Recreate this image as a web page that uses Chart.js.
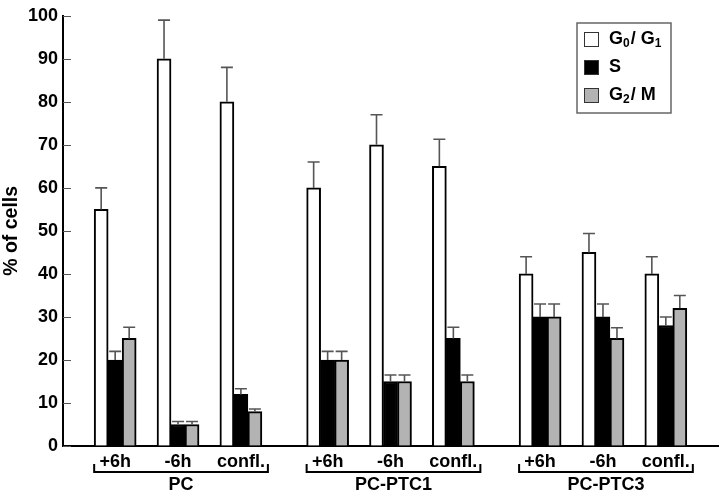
<!DOCTYPE html>
<html>
<head>
<meta charset="utf-8">
<script src="https://cdn.jsdelivr.net/npm/chart.js@4.4.1/dist/chart.umd.min.js"></script>
<style>
    body { margin: 0; background: #fff; }
    canvas { display: block; }
</style>
</head>
<body>
<canvas id="chart" width="720" height="494"></canvas>
<script>
// categories
const groups = ['PC', 'PC-PTC1', 'PC-PTC3'];
const times = ['+6h', '-6h', 'confl.'];

// % of cells per phase, order: PC(+6h,-6h,confl.), PC-PTC1(...), PC-PTC3(...)
const g0g1 = [55, 90, 80, 60, 70, 65, 40, 45, 40];
const g0g1Err = [5, 9, 8, 6, 7, 6.3, 4, 4.4, 4];
const sPhase = [20, 5, 12, 20, 15, 25, 30, 30, 28];
const sErr = [2, 0.7, 1.3, 2, 1.5, 2.6, 3, 3, 2];
const g2m = [25, 5, 8, 20, 15, 15, 30, 25, 32];
const g2mErr = [2.6, 0.7, 0.6, 2, 1.5, 1.5, 3, 2.5, 3];

const yTicks = [0, 10, 20, 30, 40, 50, 60, 70, 80, 90, 100];

// legend labels, split into [text, isSubscript] parts
const seriesLabels = [
    [['G', false], ['0', true], ['/ G', false], ['1', true]],
    [['S', false]],
    [['G', false], ['2', true], ['/ M', false]]
];

const GROUP_STEP = 3.38;
const FONT = 'bold 18px "Liberation Sans", Arial, sans-serif';

const xPos = [];
groups.forEach((g, gi) => times.forEach((t, ti) => xPos.push(gi * GROUP_STEP + ti)));

const toPoints = arr => arr.map((v, i) => ({x: xPos[i], y: v}));

const errors = [g0g1Err, sErr, g2mErr];

const errorBars = {
    id: 'errorBars',
    afterDatasetsDraw(chart) {
        const ctx = chart.ctx;
        const y = chart.scales.y;
        ctx.save();
        ctx.strokeStyle = '#555';
        ctx.lineWidth = 1.6;
        chart.data.datasets.forEach((ds, di) => {
            const meta = chart.getDatasetMeta(di);
            meta.data.forEach((bar, i) => {
                const top = y.getPixelForValue(ds.data[i].y + errors[di][i]);
                ctx.beginPath();
                ctx.moveTo(bar.x, bar.y);
                ctx.lineTo(bar.x, top);
                ctx.moveTo(bar.x - 6, top);
                ctx.lineTo(bar.x + 6, top);
                ctx.stroke();
            });
        });
        ctx.restore();
    }
};

const decorations = {
    id: 'decorations',
    afterDraw(chart) {
        const ctx = chart.ctx;
        const x = chart.scales.x;
        const y = chart.scales.y;
        const left = chart.chartArea.left;
        ctx.save();

        // inward y ticks
        ctx.strokeStyle = '#555';
        ctx.lineWidth = 1;
        yTicks.forEach(t => {
            const py = Math.round(y.getPixelForValue(t)) + 0.5;
            ctx.beginPath();
            ctx.moveTo(left, py);
            ctx.lineTo(left + 8, py);
            ctx.stroke();
        });

        // group brackets + labels
        ctx.strokeStyle = '#000';
        ctx.lineWidth = 2;
        ctx.fillStyle = '#000';
        ctx.font = FONT;
        ctx.textAlign = 'center';
        ctx.textBaseline = 'middle';
        groups.forEach((g, gi) => {
            const x0 = x.getPixelForValue(xPos[gi * 3]) - 21;
            const x1 = x.getPixelForValue(xPos[gi * 3 + 2]) + 27;
            ctx.beginPath();
            ctx.moveTo(x0, 464);
            ctx.lineTo(x0, 472);
            ctx.lineTo(x1, 472);
            ctx.lineTo(x1, 464);
            ctx.stroke();
            ctx.fillText(g, (x0 + x1) / 2, 485);
        });

        // legend
        ctx.strokeStyle = '#666';
        ctx.lineWidth = 1.5;
        ctx.strokeRect(577, 23, 94, 90);
        ctx.textAlign = 'left';
        const rows = [39, 67, 95];
        chart.data.datasets.forEach((ds, di) => {
            const cy = rows[di];
            ctx.fillStyle = ds.backgroundColor;
            ctx.fillRect(584, cy - 7, 15, 15);
            ctx.strokeStyle = '#333';
            ctx.lineWidth = 1;
            ctx.strokeRect(584.5, cy - 6.5, 14, 14);
            ctx.fillStyle = '#000';
            let tx = 609;
            seriesLabels[di].forEach(([txt, sub]) => {
                ctx.font = sub ? 'bold 12px "Liberation Sans", Arial, sans-serif' : FONT;
                ctx.fillText(txt, tx, sub ? cy + 5 : cy);
                tx += ctx.measureText(txt).width + (sub ? 1 : 0);
            });
        });

        ctx.restore();
    }
};

new Chart(document.getElementById('chart'), {
    type: 'bar',
    data: {
        datasets: [{
            label: 'G0/ G1',
            data: toPoints(g0g1),
            backgroundColor: '#ffffff'
        }, {
            label: 'S',
            data: toPoints(sPhase),
            backgroundColor: '#000000'
        }, {
            label: 'G2/ M',
            data: toPoints(g2m),
            backgroundColor: '#b3b3b3'
        }]
    },
    options: {
        responsive: false,
        animation: false,
        events: [],
        layout: {padding: {left: 0, top: 10, right: 2, bottom: 0}},
        datasets: {
            bar: {
                barThickness: 14,
                borderColor: '#000',
                borderWidth: 2
            }
        },
        plugins: {
            legend: {display: false},
            tooltip: {enabled: false}
        },
        scales: {
            x: {
                type: 'linear',
                min: -0.83,
                max: 2 * GROUP_STEP + 2 + 0.83,
                offset: false,
                grid: {display: true, offset: false, drawOnChartArea: false, drawTicks: false},
                border: {color: '#000', width: 2},
                afterBuildTicks(scale) {
                    scale.ticks = xPos.map(v => ({value: v}));
                },
                afterFit(scale) {
                    scale.height = 48;
                },
                ticks: {
                    autoSkip: false,
                    maxRotation: 0,
                    padding: 5,
                    color: '#000',
                    font: {family: '"Liberation Sans", Arial, sans-serif', size: 18, weight: 'bold'},
                    callback: (v, i) => times[i % 3]
                }
            },
            y: {
                min: 0,
                max: 100,
                grid: {display: true, drawOnChartArea: false, drawTicks: false},
                border: {color: '#000', width: 2},
                afterFit(scale) {
                    scale.width = 63;
                },
                ticks: {
                    stepSize: 10,
                    padding: 5,
                    color: '#000',
                    font: {family: '"Liberation Sans", Arial, sans-serif', size: 18, weight: 'bold'}
                },
                title: {
                    display: true,
                    text: '% of cells',
                    color: '#000',
                    padding: {top: 0, bottom: 0},
                    font: {family: '"Liberation Sans", Arial, sans-serif', size: 19.5, weight: 'bold'}
                }
            }
        }
    },
    plugins: [errorBars, decorations]
});
</script>
</body>
</html>
